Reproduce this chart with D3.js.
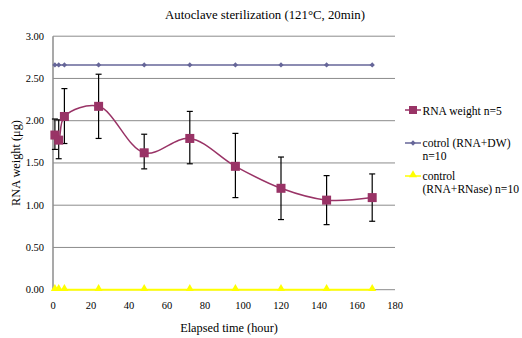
<!DOCTYPE html>
<html>
<head>
<meta charset="utf-8">
<script src="https://cdn.jsdelivr.net/npm/d3@7"></script>
<style>
  body { margin: 0; background: #fff; }
</style>
</head>
<body>
<svg id="chart" width="522" height="338"></svg>
<script>
// values
const hours = [1, 3, 6, 24, 48, 72, 96, 120, 144, 168]
const rnaWeight = [1.83, 1.77, 2.05, 2.17, 1.62, 1.79, 1.46, 1.20, 1.06, 1.09]
const rnaLow = [1.66, 1.55, 1.73, 1.79, 1.43, 1.49, 1.09, 0.83, 0.77, 0.81]
const rnaHigh = [2.02, 2.01, 2.38, 2.55, 1.84, 2.11, 1.85, 1.57, 1.35, 1.37]
const ctrlDW = [2.66, 2.66, 2.66, 2.66, 2.66, 2.66, 2.66, 2.66, 2.66, 2.66]
const ctrlRNase = [0, 0, 0, 0, 0, 0, 0, 0, 0, 0]
const xTicks = [0, 20, 40, 60, 80, 100, 120, 140, 160, 180]
const yTicks = [0, 0.5, 1, 1.5, 2, 2.5, 3]

const FONT = "Liberation Serif"
const svg = d3.select("#chart")
const x = d3.scaleLinear().domain([0, 180]).range([53, 395])
const y = d3.scaleLinear().domain([0, 3]).range([289.7, 36.2])

const label = (sel, size) => sel.style("font-family", FONT).style("font-size", size + "px").attr("fill", "#000")

// gridlines
svg.append("g").selectAll("line")
  .data(yTicks)
  .join("line")
  .attr("x1", x(0)).attr("x2", x(180))
  .attr("y1", d => y(d)).attr("y2", d => y(d))
  .attr("stroke", "#8c8c8c").attr("stroke-width", 1)

// left axis line
svg.append("line")
  .attr("x1", x(0)).attr("x2", x(0))
  .attr("y1", y(0)).attr("y2", y(3))
  .attr("stroke", "#8c8c8c").attr("stroke-width", 1.5)

// tick labels
svg.append("g").selectAll("text")
  .data(yTicks)
  .join("text")
  .attr("x", 44).attr("y", d => y(d) + 3.5)
  .attr("text-anchor", "end")
  .text(d => d3.format(".2f")(d))
  .call(label, 10.5)

svg.append("g").selectAll("text")
  .data(xTicks)
  .join("text")
  .attr("x", d => x(d)).attr("y", 309)
  .attr("text-anchor", "middle")
  .text(d => d)
  .call(label, 10.5)

// titles
svg.append("text").attr("x", 265).attr("y", 19)
  .attr("text-anchor", "middle")
  .text("Autoclave sterilization (121°C, 20min)").call(label, 12.8)
svg.append("text").attr("x", 229).attr("y", 332)
  .attr("text-anchor", "middle")
  .text("Elapsed time (hour)").call(label, 12.3)
svg.append("text")
  .attr("transform", "translate(20,163) rotate(-90)")
  .attr("text-anchor", "middle")
  .text("RNA weight (μg)").call(label, 12.3)

const pts = arr => hours.map((h, i) => [x(h), y(arr[i])])

// yellow control
svg.append("path").attr("d", d3.line()(pts(ctrlRNase)))
  .attr("fill", "none").attr("stroke", "#ffff00").attr("stroke-width", 2)
const tri = d3.symbol().type(d3.symbolTriangle).size(28)
svg.append("g").selectAll("path")
  .data(pts(ctrlRNase))
  .join("path")
  .attr("transform", d => `translate(${d[0]},${d[1] - 1})`)
  .attr("d", tri).attr("fill", "#ffff00")

// blue control
svg.append("path").attr("d", d3.line()(pts(ctrlDW)))
  .attr("fill", "none").attr("stroke", "#666699").attr("stroke-width", 1.5)
svg.append("g").selectAll("circle")
  .data(pts(ctrlDW))
  .join("path")
  .attr("transform", d => `translate(${d[0]},${d[1]}) rotate(45)`)
  .attr("d", d3.symbol().type(d3.symbolSquare).size(14)).attr("fill", "#666699")

// error bars
const eb = svg.append("g").attr("stroke", "#000").attr("stroke-width", 1.2)
hours.forEach((h, i) => {
  const cx = x(h)
  eb.append("line").attr("x1", cx).attr("x2", cx).attr("y1", y(rnaLow[i])).attr("y2", y(rnaHigh[i]))
  eb.append("line").attr("x1", cx - 3).attr("x2", cx + 3).attr("y1", y(rnaLow[i])).attr("y2", y(rnaLow[i]))
  eb.append("line").attr("x1", cx - 3).attr("x2", cx + 3).attr("y1", y(rnaHigh[i])).attr("y2", y(rnaHigh[i]))
})

// RNA weight smoothed line
svg.append("path").attr("d", d3.line().curve(d3.curveCatmullRom.alpha(0.5))(pts(rnaWeight)))
  .attr("fill", "none").attr("stroke", "#993366").attr("stroke-width", 1.5)
svg.append("g").selectAll("rect")
  .data(pts(rnaWeight))
  .join("rect")
  .attr("x", d => d[0] - 4.5).attr("y", d => d[1] - 4.5)
  .attr("width", 9).attr("height", 9)
  .attr("fill", "#993366")

// legend
const lg = svg.append("g")
const legendText = (xx, yy, t) => lg.append("text").attr("x", xx).attr("y", yy)
  .text(t).call(label, 11.6)

lg.append("line").attr("x1", 405).attr("x2", 421).attr("y1", 110).attr("y2", 110)
  .attr("stroke", "#993366").attr("stroke-width", 1.5)
lg.append("rect").attr("x", 409).attr("y", 106).attr("width", 8).attr("height", 8).attr("fill", "#993366")
legendText(422.5, 114.5, "RNA weight n=5")

lg.append("line").attr("x1", 405).attr("x2", 421).attr("y1", 143).attr("y2", 143)
  .attr("stroke", "#666699").attr("stroke-width", 1.5)
lg.append("path").attr("transform", "translate(413,143) rotate(45)")
  .attr("d", d3.symbol().type(d3.symbolSquare).size(14)).attr("fill", "#666699")
legendText(422.5, 147, "cotrol (RNA+DW)")
legendText(422.5, 160, "n=10")

lg.append("line").attr("x1", 405).attr("x2", 421).attr("y1", 176).attr("y2", 176)
  .attr("stroke", "#ffff00").attr("stroke-width", 1.5)
lg.append("path").attr("transform", "translate(413,175)")
  .attr("d", tri).attr("fill", "#ffff00")
legendText(422.5, 180, "control")
legendText(422.5, 193, "(RNA+RNase) n=10")
</script>
</body>
</html>
